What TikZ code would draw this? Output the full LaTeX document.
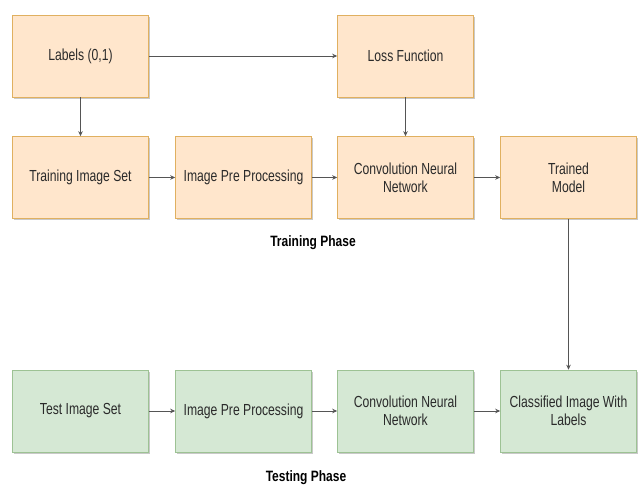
\documentclass[tikz,border=0pt]{standalone}
\usepackage{fontspec}
\setmainfont[FakeStretch=0.76]{Liberation Sans}
\newfontfamily\phasefont[FakeStretch=0.8]{Liberation Sans}
\usetikzlibrary{arrows.meta,shadows}
\definecolor{orfill}{HTML}{FFE6CC}
\definecolor{ordraw}{HTML}{E0B060}
\definecolor{grfill}{HTML}{D5E8D4}
\definecolor{grdraw}{HTML}{9DC294}
\definecolor{txt}{HTML}{2A2A2A}
\definecolor{lnk}{HTML}{555555}
\tikzset{
  box/.style={rectangle, minimum width=136pt, minimum height=82pt, inner sep=2pt,
    align=center, text=txt, line width=0.6pt,
    font=\fontsize{16}{18}\selectfont,
    drop shadow={shadow xshift=1.5pt, shadow yshift=-1.8pt, opacity=0.35, fill=black!60}},
  trainbox/.style={box, fill=orfill, draw=ordraw},
  testbox/.style={box, fill=grfill, draw=grdraw},
  link/.style={draw=lnk, line width=0.8pt, -{Stealth[length=5pt,width=4.5pt]}},
  phase/.style={font=\phasefont\bfseries\fontsize{15}{17}\selectfont, text=black}
}
\begin{document}
\begin{tikzpicture}[x=1pt,y=-1pt]
\useasboundingbox[fill=white] (0,0) rectangle (638,486);
\node[trainbox] (labels) at (80.5,56) {Labels (0,1)};
\node[trainbox] (loss) at (405.5,56) {Loss Function};
\node[trainbox] (trset) at (80.5,177.5) {Training Image Set};
\node[trainbox] (trpre) at (243.5,177.5) {Image Pre Processing};
\node[trainbox] (trcnn) at (405.5,177.5) {Convolution Neural\\Network};
\node[trainbox] (model) at (568.5,177.5) {Trained\\Model};
\node[phase] (trphase) at (313,243) {Training Phase};
\node[testbox] (teset) at (80.5,411) {Test Image Set};
\node[testbox] (tepre) at (243.5,411) {Image Pre Processing};
\node[testbox] (tecnn) at (405.5,411) {Convolution Neural\\Network};
\node[testbox] (classified) at (568.5,411) {Classified Image With\\Labels};
\node[phase] (tephase) at (306,478) {Testing Phase};
\draw[link] (labels) -- (loss);
\draw[link] (labels) -- (trset);
\draw[link] (loss) -- (trcnn);
\draw[link] (trset) -- (trpre);
\draw[link] (trpre) -- (trcnn);
\draw[link] (trcnn) -- (model);
\draw[link] (model) -- (classified);
\draw[link] (teset) -- (tepre);
\draw[link] (tepre) -- (tecnn);
\draw[link] (tecnn) -- (classified);
\end{tikzpicture}
\end{document}
